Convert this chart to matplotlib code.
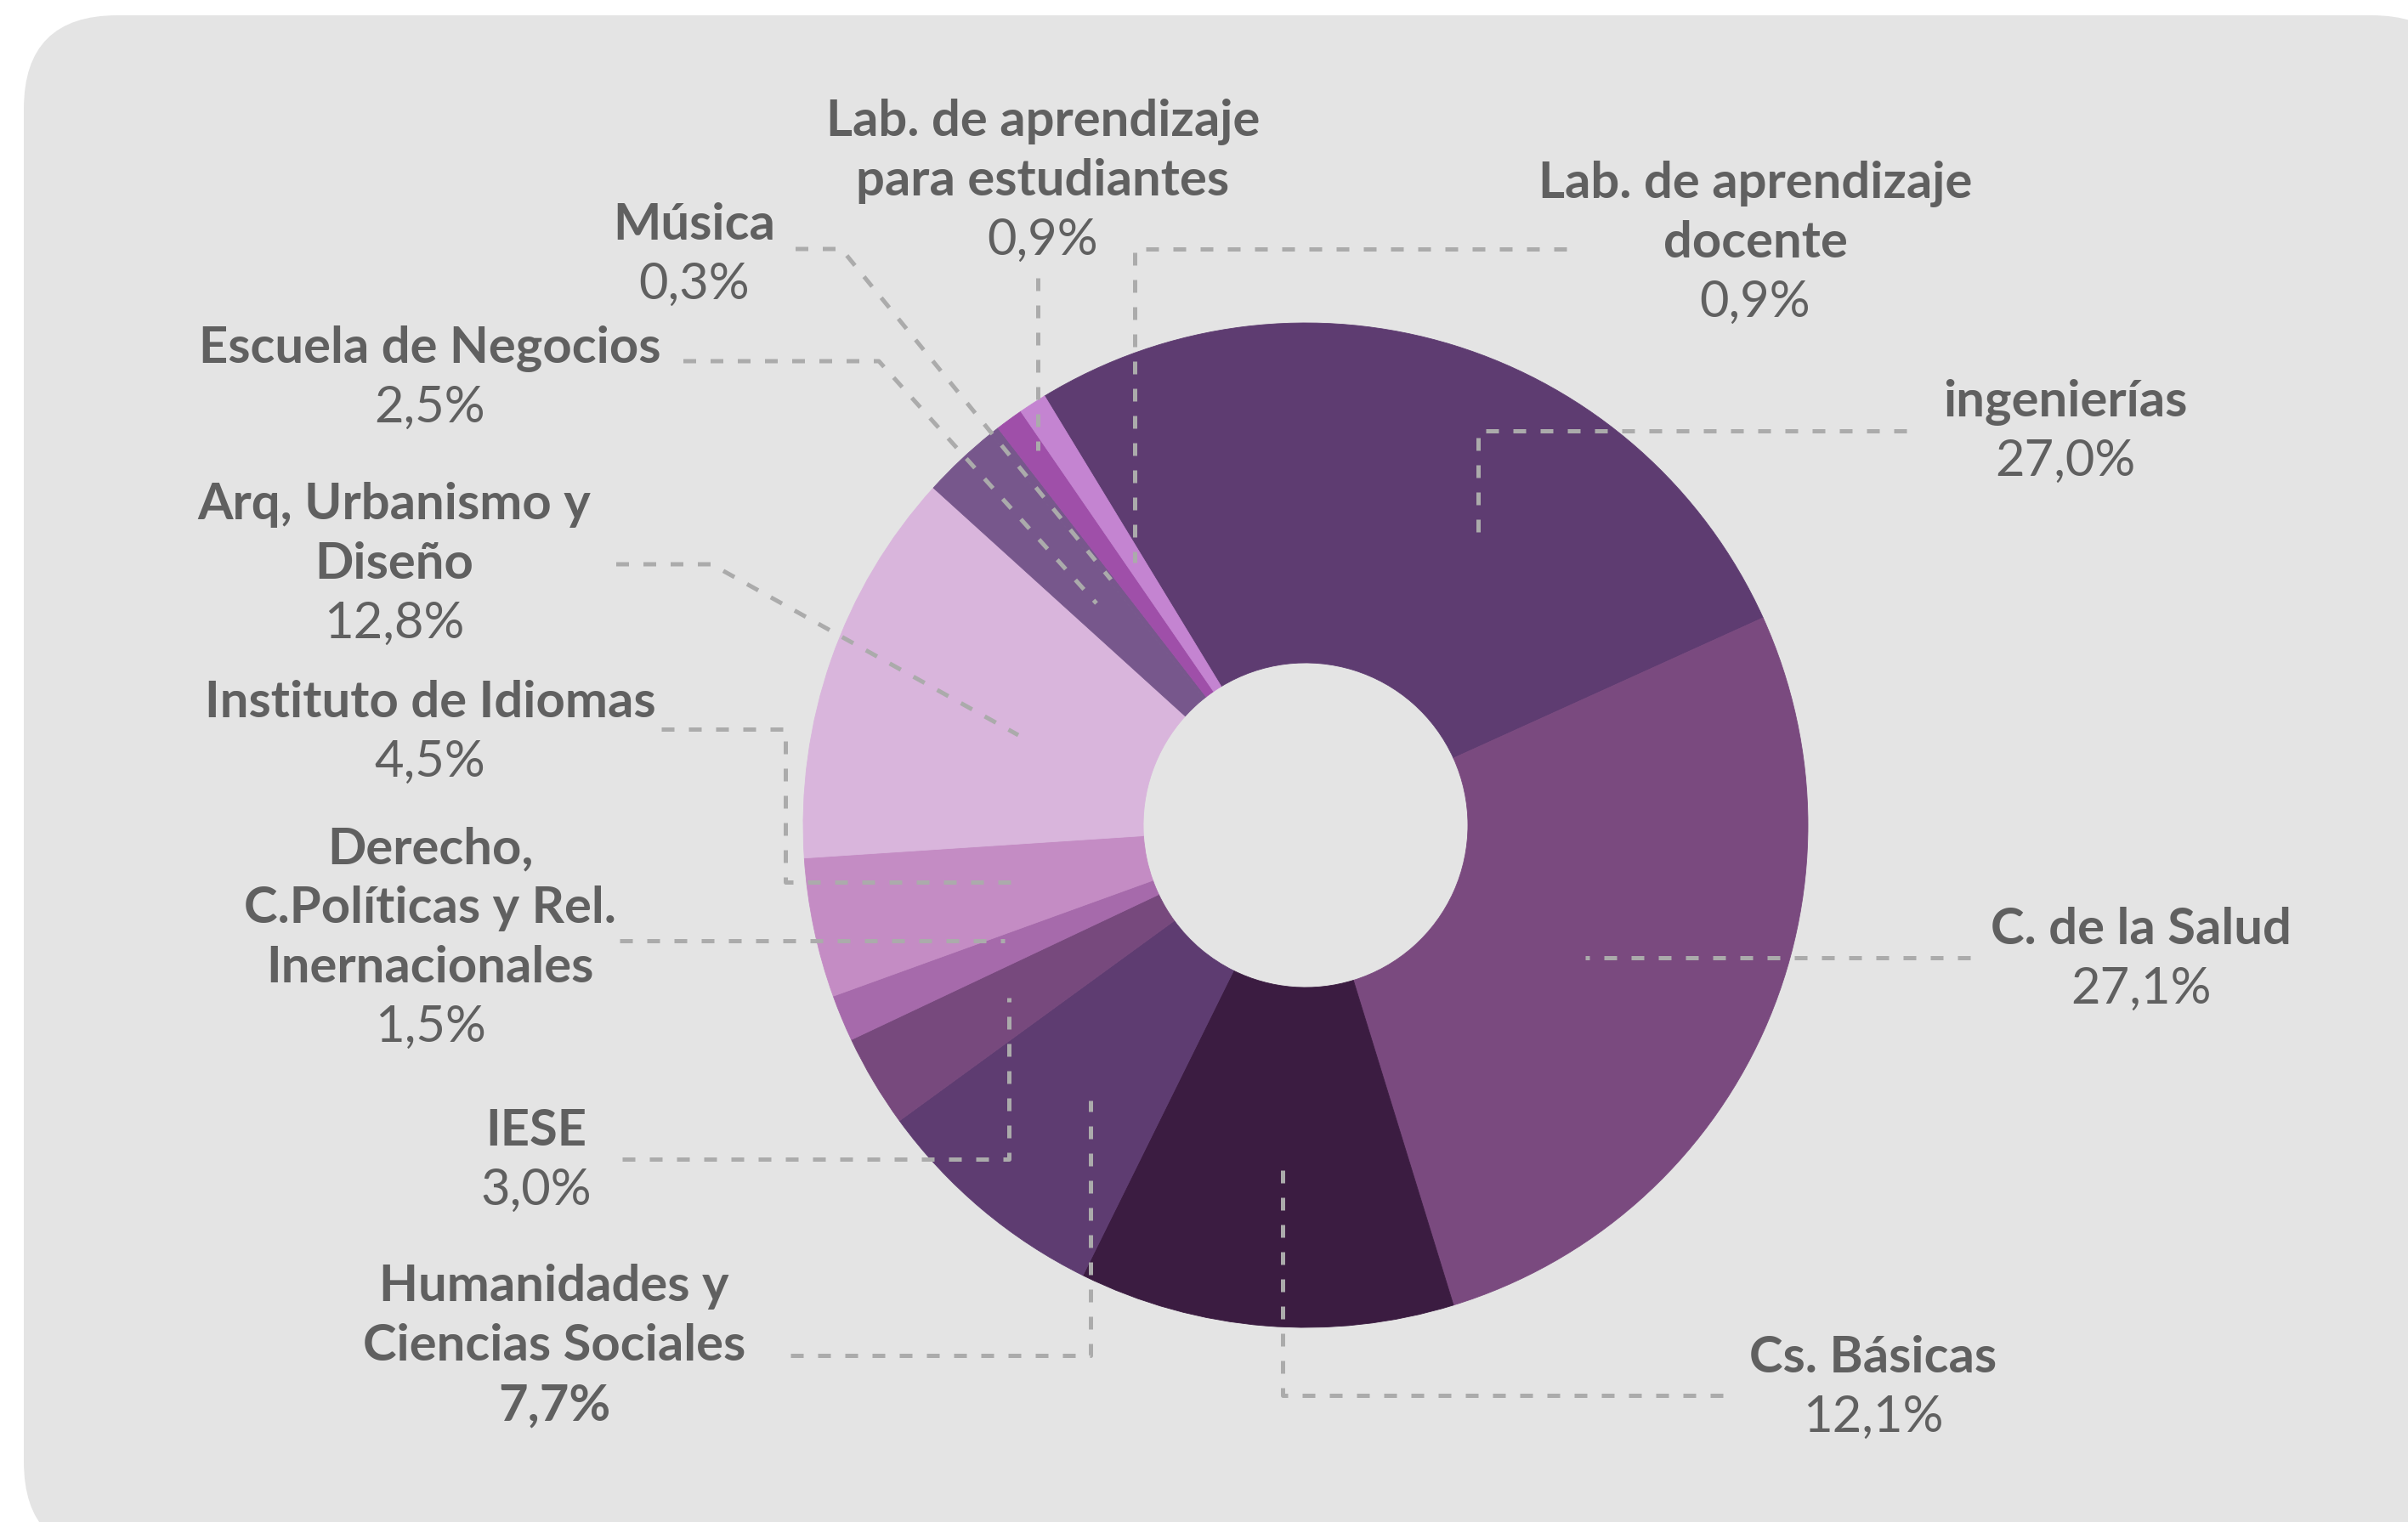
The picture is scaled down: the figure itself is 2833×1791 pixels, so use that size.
import matplotlib
matplotlib.use("Agg")
import matplotlib.pyplot as plt
from matplotlib.patches import FancyBboxPatch

# datos (porcentajes), en el orden de las porciones, en sentido horario
categorias = ["ingenierías", "C. de la Salud", "Cs. Básicas", "Humanidades y Ciencias Sociales",
              "IESE", "Derecho, C.Políticas y Rel. Inernacionales", "Instituto de Idiomas",
              "Arq, Urbanismo y Diseño", "Escuela de Negocios", "Música",
              "Lab. de aprendizaje para estudiantes", "Lab. de aprendizaje docente"]
valores = [27.0, 27.1, 12.1, 7.7, 3.0, 1.5, 4.5, 12.8, 2.5, 0.3, 0.9, 0.9]
etiquetas_pct = ["27,0%", "27,1%", "12,1%", "7,7%", "3,0%", "1,5%", "4,5%",
                 "12,8%", "2,5%", "0,3%", "0,9%", "0,9%"]
colores = ["#5e3c71", "#7a4a7f", "#3b1c41", "#5e3c71", "#77497d", "#a66aab", "#c48cc4",
           "#d9b5dc", "#77578c", "#77578c", "#9f4fa9", "#c484d1"]

# lineas del nombre tal como se cortan en el grafico
nombres = [["ingenierías"], ["C. de la Salud"], ["Cs. Básicas"],
           ["Humanidades y", "Ciencias Sociales"], ["IESE"],
           ["Derecho,", "C.Políticas y Rel.", "Inernacionales"], ["Instituto de Idiomas"],
           ["Arq, Urbanismo y", "Diseño"], ["Escuela de Negocios"], ["Música"],
           ["Lab. de aprendizaje", "para estudiantes"], ["Lab. de aprendizaje", "docente"]]

# layout en pixeles (x, y desde arriba): centro del texto y linea base de la primera linea
pos_texto = [(2430, 490), (2519, 1111), (2204, 1615), (652, 1531), (631, 1348), (506, 1016),
             (506, 844), (464, 611), (506, 427), (817, 282), (1227, 160), (2065, 233)]
guias = [
    [(2243, 507), (1739, 507), (1739, 643)],
    [(2318, 1127), (1865, 1127)],
    [(2027, 1642), (1509, 1642), (1509, 1364)],
    [(930, 1595), (1283, 1595), (1283, 1295)],
    [(732, 1364), (1187, 1364), (1187, 1174)],
    [(729, 1107), (1182, 1107)],
    [(778, 858), (924, 858), (924, 1038), (1191, 1038)],
    [(725, 664), (837, 664), (1198, 865)],
    [(804, 425), (1034, 425), (1290, 710)],
    [(936, 293), (990, 293), (1307, 682)],
    [(1221, 327), (1221, 530)],
    [(1843, 293), (1335, 293), (1335, 662)],
]

W, H = 2833, 1791
CX, CY, R, R_HUECO = 1536, 971, 591, 191
PASO = 70
GRIS_TXT = "#606060"
TAM = 43

fig = plt.figure(figsize=(W / 100, H / 100), dpi=100)
fig.patch.set_facecolor("white")
ax = fig.add_axes([0, 0, 1, 1])

fondo = FancyBboxPatch((28, H - 1830), 2872, 1812, boxstyle="round,pad=0,rounding_size=110",
                       fc="#e4e4e4", ec="none", zorder=0)
ax.add_patch(fondo)

wedges, _ = ax.pie(valores, colors=colores, startangle=121.3, counterclock=False,
                   center=(CX, H - CY), radius=R, frame=True,
                   wedgeprops=dict(width=R - R_HUECO, linewidth=0.6))
for w, c in zip(wedges, colores):
    w.set_edgecolor(c)
    w.set_zorder(1)
ax.set_xlim(0, W)
ax.set_ylim(0, H)
ax.set_aspect("auto")
ax.axis("off")

for pts in guias:
    xs = [p[0] for p in pts]
    ys = [H - p[1] for p in pts]
    ax.plot(xs, ys, color="#ababab", lw=3.6, ls=(0, (3.0, 3.4)),
            dash_capstyle="butt", zorder=3)

for i, lineas in enumerate(nombres):
    x, y0 = pos_texto[i]
    for k, t in enumerate(lineas):
        ax.text(x, H - (y0 + k * PASO), t, ha="center", va="baseline", fontsize=TAM,
                fontfamily="Lato", fontweight="bold", color=GRIS_TXT, zorder=4)
    peso = "bold" if i == 3 else "normal"
    ax.text(x, H - (y0 + len(lineas) * PASO), etiquetas_pct[i], ha="center", va="baseline",
            fontsize=TAM, fontfamily="Lato", fontweight=peso, color=GRIS_TXT, zorder=4)

fig.savefig("out.png", dpi=100, facecolor="white")
